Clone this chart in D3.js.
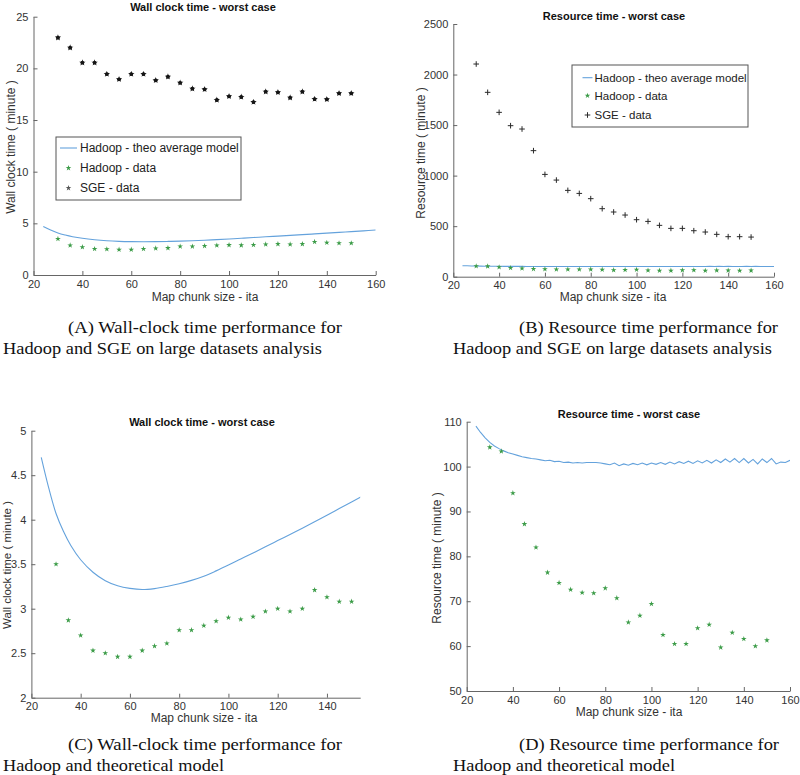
<!DOCTYPE html>
<html>
<head>
<meta charset="utf-8">
<script src="https://cdn.jsdelivr.net/npm/d3@7"></script>
<style>
  html, body { margin: 0; padding: 0; background: #fff; }
  svg { display: block; }
  text { font-family: "Liberation Sans", Arial, Helvetica, sans-serif; }
</style>
</head>
<body>
<svg id="chart" width="800" height="775"></svg>
<script>
// ---------------- DATA ----------------
const chunkSizes = [30, 35, 40, 45, 50, 55, 60, 65, 70, 75, 80, 85, 90, 95, 100, 105, 110, 115, 120, 125, 130, 135, 140, 145, 150];

const sgeWall = [22.97, 22.0, 20.55, 20.55, 19.45, 18.94, 19.45, 19.45, 18.84, 19.19, 18.6, 18.03, 17.97, 16.94, 17.29, 17.23, 16.74, 17.74, 17.68, 17.16, 17.74, 17.03, 17.0, 17.58, 17.58];
const hadoopWall = [3.50, 2.87, 2.70, 2.53, 2.50, 2.46, 2.46, 2.53, 2.58, 2.61, 2.76, 2.76, 2.81, 2.86, 2.90, 2.88, 2.91, 2.97, 3.00, 2.97, 3.00, 3.21, 3.13, 3.08, 3.08];

const theoWallX = [24, 27, 30, 33, 36, 40, 45, 50, 55, 60, 65, 70, 75, 80, 85, 90, 95, 100, 105, 110, 115, 120, 125, 130, 135, 140, 145, 150, 155, 160];
const theoWallY = [4.70, 4.36, 4.07, 3.87, 3.71, 3.55, 3.41, 3.315, 3.258, 3.228, 3.215, 3.226, 3.25, 3.28, 3.318, 3.365, 3.425, 3.49, 3.558, 3.626, 3.695, 3.765, 3.835, 3.905, 3.977, 4.05, 4.125, 4.20, 4.275, 4.35];

const sgeResource = [2104, 1824, 1626, 1494, 1461, 1247, 1012, 956, 854, 824, 772, 673, 640, 610, 564, 547, 508, 478, 478, 455, 442, 419, 396, 396, 392];
const hadoopResource = [104.3, 103.4, 94.1, 87.2, 82.0, 76.4, 74.1, 72.6, 71.9, 71.8, 72.9, 70.7, 65.3, 66.8, 69.4, 62.5, 60.5, 60.5, 64.0, 64.8, 59.7, 63.0, 61.6, 60.0, 61.3];

const theoResX = [24, 26, 28, 30, 32, 34, 36, 38, 40, 42, 44, 46, 48, 50, 52, 54, 56, 58, 60, 62, 64, 66, 68, 70, 72, 74, 76, 78, 80, 82, 84, 86, 88, 90, 92, 94, 96, 98, 100, 102, 104, 106, 108, 110, 112, 114, 116, 118, 120, 122, 124, 126, 128, 130, 132, 134, 136, 138, 140, 142, 144, 146, 148, 150, 152, 154, 156, 158, 160];
const theoResY = [109.0, 107.6, 106.4, 105.4, 104.6, 104.0, 103.5, 103.1, 102.8, 102.5, 102.2, 102.0, 101.8, 101.7, 101.5, 101.3, 101.4, 101.1, 101.2, 100.9, 101.0, 100.8, 100.9, 100.8, 100.9, 100.9, 100.9, 100.8, 100.6, 100.4, 100.8, 100.2, 100.6, 100.3, 100.7, 100.4, 100.8, 100.4, 100.8, 100.5, 100.9, 100.5, 101.0, 100.6, 101.1, 100.7, 101.2, 100.7, 101.3, 100.8, 101.4, 100.8, 101.5, 100.9, 101.7, 101.0, 101.8, 100.9, 101.8, 100.8, 101.6, 100.6, 101.7, 100.9, 101.8, 100.6, 101.0, 100.9, 101.4];

const xTicksFull = [20, 40, 60, 80, 100, 120, 140, 160];
const xTicksC = [20, 40, 60, 80, 100, 120, 140];
const yTicksA = [0, 5, 10, 15, 20, 25];
const yTicksB = [0, 500, 1000, 1500, 2000, 2500];
const yTicksC = [2, 2.5, 3, 3.5, 4, 4.5, 5];
const yTicksD = [50, 60, 70, 80, 90, 100, 110];

const legendLabels = ["Hadoop - theo average model", "Hadoop - data", "SGE - data"];
const titleWall = "Wall clock time - worst case";
const titleRes = "Resource time - worst case";
const xLabel = "Map chunk size - ita";
const yLabelWall = "Wall clock time ( minute )";
const yLabelRes = "Resource time ( minute )";

const captions = [
  {lines: ["(A) Wall-clock time performance for", "Hadoop and SGE on large datasets analysis"]},
  {lines: ["(B) Resource time performance for", "Hadoop and SGE on large datasets analysis"]},
  {lines: ["(C) Wall-clock time performance for", "Hadoop and theoretical model"]},
  {lines: ["(D) Resource time performance for", "Hadoop and theoretical model"]}
];

// ---------------- STYLE ----------------
const BLUE = "#64a2dc";
const GREEN = "#3c9c48";
const AXIS = "#666";
const TICKTXT = "#333";

const svg = d3.select("#chart");
const star = d3.symbol().type(d3.symbolStar);
const fmt = d3.format("~g");

function drawPanel(cfg) {
  const g = svg.append("g");
  const x = d3.scaleLinear().domain(cfg.xDomain).range(cfg.xRange);
  const y = d3.scaleLinear().domain(cfg.yDomain).range(cfg.yRange);

  const clipId = "clip" + cfg.id;
  svg.append("defs").append("clipPath").attr("id", clipId)
    .append("rect")
    .attr("x", cfg.xRange[0]).attr("y", cfg.yRange[1] - 2)
    .attr("width", cfg.xRange[1] - cfg.xRange[0])
    .attr("height", cfg.yRange[0] - cfg.yRange[1] + 2);

  // axes
  const xAxis = d3.axisBottom(x).tickValues(cfg.xTicks).tickFormat(fmt).tickSizeInner(-4).tickSizeOuter(0).tickPadding(5);
  const yAxis = d3.axisLeft(y).tickValues(cfg.yTicks).tickFormat(fmt).tickSizeInner(-4).tickSizeOuter(0).tickPadding(5);

  const gx = g.append("g").attr("transform", `translate(0,${cfg.yRange[0]})`).call(xAxis);
  const gy = g.append("g").attr("transform", `translate(${cfg.xRange[0]},0)`).call(yAxis);
  [gx, gy].forEach(a => {
    a.select(".domain").attr("stroke", AXIS).attr("stroke-width", 1);
    a.selectAll(".tick line").attr("stroke", AXIS);
    a.selectAll(".tick text").attr("fill", TICKTXT).style("font-size", "11px")
      .style("font-family", '"Liberation Sans", Arial, sans-serif');
  });

  // title
  g.append("text").attr("x", cfg.titleX).attr("y", cfg.titleY)
    .attr("text-anchor", "middle").style("font-size", "11px").style("font-weight", "bold")
    .attr("fill", "#111").text(cfg.title);
  // x label
  g.append("text").attr("x", cfg.xLabelX).attr("y", cfg.xLabelY)
    .attr("text-anchor", "middle").style("font-size", "12px").attr("fill", "#333").text(xLabel);
  // y label
  g.append("text").attr("transform", `translate(${cfg.yLabelX},${cfg.yLabelY}) rotate(-90)`)
    .attr("text-anchor", "middle").style("font-size", (cfg.yLabelFs || 12) + "px").attr("fill", "#333").text(cfg.yLabel);

  const plot = g.append("g").attr("clip-path", `url(#${clipId})`);

  // model line
  const line = d3.line().x(d => x(d[0])).y(d => y(d[1])).curve(cfg.curve || d3.curveLinear);
  plot.append("path").datum(d3.zip(cfg.modelX, cfg.modelY))
    .attr("d", line).attr("fill", "none").attr("stroke", BLUE).attr("stroke-width", 1.1);

  // Hadoop data
  plot.selectAll(".hd").data(d3.zip(chunkSizes, cfg.hadoop)).join("path")
    .attr("transform", d => `translate(${x(d[0])},${y(d[1])})`)
    .attr("d", star.size(10)()).attr("fill", GREEN);

  // SGE data
  if (cfg.sge) {
    const pts = d3.zip(chunkSizes, cfg.sge);
    if (cfg.sgeMarker === "dot") {
      const dg = plot.selectAll(".sg").data(pts).join("g")
        .attr("transform", d => `translate(${x(d[0])},${y(d[1])})`);
      dg.append("circle").attr("r", 1.9).attr("fill", "#151515");
      dg.append("path").attr("d", star.size(13)()).attr("fill", "#151515");
    } else {
      const cg = plot.selectAll(".sg").data(pts).join("g")
        .attr("transform", d => `translate(${x(d[0])},${y(d[1])})`);
      cg.append("path").attr("d", "M-2.8,0H2.8M0,-2.8V2.8").attr("stroke", "#2a2a2a").attr("stroke-width", 1);
    }
  }

  // legend
  if (cfg.legend) {
    const L = cfg.legend;
    const lg = g.append("g");
    lg.append("rect").attr("x", L.x).attr("y", L.y).attr("width", L.w).attr("height", L.h)
      .attr("fill", "#fff").attr("stroke", "#555").attr("stroke-width", 1);
    L.rows.forEach((ry, i) => {
      if (i === 0) {
        lg.append("line").attr("x1", L.sx1).attr("x2", L.sx2).attr("y1", ry).attr("y2", ry)
          .attr("stroke", BLUE).attr("stroke-width", 1.1);
      } else if (i === 1) {
        lg.append("path").attr("transform", `translate(${(L.sx1 + L.sx2) / 2},${ry})`)
          .attr("d", star.size(10)()).attr("fill", GREEN);
      } else {
        if (cfg.sgeMarker === "dot") {
          lg.append("path").attr("transform", `translate(${(L.sx1 + L.sx2) / 2},${ry})`)
            .attr("d", star.size(10)()).attr("fill", "#555");
        } else {
          lg.append("path").attr("transform", `translate(${(L.sx1 + L.sx2) / 2},${ry})`)
            .attr("d", "M-2.8,0H2.8M0,-2.8V2.8").attr("stroke", "#2a2a2a").attr("stroke-width", 1);
        }
      }
      lg.append("text").attr("x", L.tx).attr("y", ry + 4.3)
        .style("font-size", L.fs + "px").attr("fill", "#222").text(legendLabels[i]);
    });
  }
}

drawPanel({
  id: "A", xDomain: [20, 160], xRange: [33.5, 375.7], yDomain: [0, 25], yRange: [275, 16.7],
  xTicks: xTicksFull, yTicks: yTicksA, title: titleWall, titleX: 203, titleY: 11,
  xLabelX: 205, xLabelY: 301, yLabel: yLabelWall, yLabelX: 15, yLabelY: 147,
  modelX: theoWallX, modelY: theoWallY, curve: d3.curveCatmullRom,
  hadoop: hadoopWall, sge: sgeWall, sgeMarker: "dot",
  legend: {x: 56, y: 137, w: 185, h: 63, rows: [148, 168, 188], sx1: 60, sx2: 77, tx: 80, fs: 12}
});

drawPanel({
  id: "B", xDomain: [20, 160], xRange: [453.3, 774], yDomain: [0, 2500], yRange: [276.7, 24],
  xTicks: xTicksFull, yTicks: yTicksB, title: titleRes, titleX: 614, titleY: 20,
  xLabelX: 613, xLabelY: 301, yLabel: yLabelRes, yLabelX: 425, yLabelY: 153,
  modelX: theoResX, modelY: theoResY, hadoop: hadoopResource, sge: sgeResource, sgeMarker: "plus",
  legend: {x: 572, y: 65, w: 176, h: 62, rows: [77.7, 95.7, 115], sx1: 582.5, sx2: 592.5, tx: 594.5, fs: 11.5}
});

drawPanel({
  id: "C", xDomain: [20, 153.5], xRange: [31.4, 360.2], yDomain: [2, 5], yRange: [697.7, 430.7],
  xTicks: xTicksC, yTicks: yTicksC, title: titleWall, titleX: 202, titleY: 426,
  xLabelX: 204, xLabelY: 722, yLabel: yLabelWall, yLabelX: 11, yLabelY: 565, yLabelFs: 11.5,
  modelX: theoWallX, modelY: theoWallY, curve: d3.curveCatmullRom,
  hadoop: hadoopWall, sge: null
});

drawPanel({
  id: "D", xDomain: [20, 160], xRange: [466.7, 790], yDomain: [50, 110], yRange: [691, 421.7],
  xTicks: xTicksFull, yTicks: yTicksD, title: titleRes, titleX: 629, titleY: 417.5,
  xLabelX: 629, xLabelY: 716, yLabel: yLabelRes, yLabelX: 441, yLabelY: 558,
  modelX: theoResX, modelY: theoResY, hadoop: hadoopResource, sge: null
});

// captions
const capPos = [
  [{x: 68, y: 333, w: 274}, {x: 3, y: 354, w: 319}],
  [{x: 519, y: 333, w: 259}, {x: 453, y: 354, w: 319}],
  [{x: 68, y: 750, w: 274}, {x: 3, y: 771, w: 221}],
  [{x: 519, y: 750, w: 260}, {x: 453, y: 771, w: 222}]
];
captions.forEach((c, i) => {
  c.lines.forEach((ln, j) => {
    const p = capPos[i][j];
    svg.append("text").attr("x", p.x).attr("y", p.y)
      .attr("textLength", p.w).attr("lengthAdjust", "spacingAndGlyphs")
      .style("font-family", '"Liberation Serif", "Times New Roman", serif')
      .style("font-size", "17px").attr("fill", "#111").text(ln);
  });
});
</script>
</body>
</html>
